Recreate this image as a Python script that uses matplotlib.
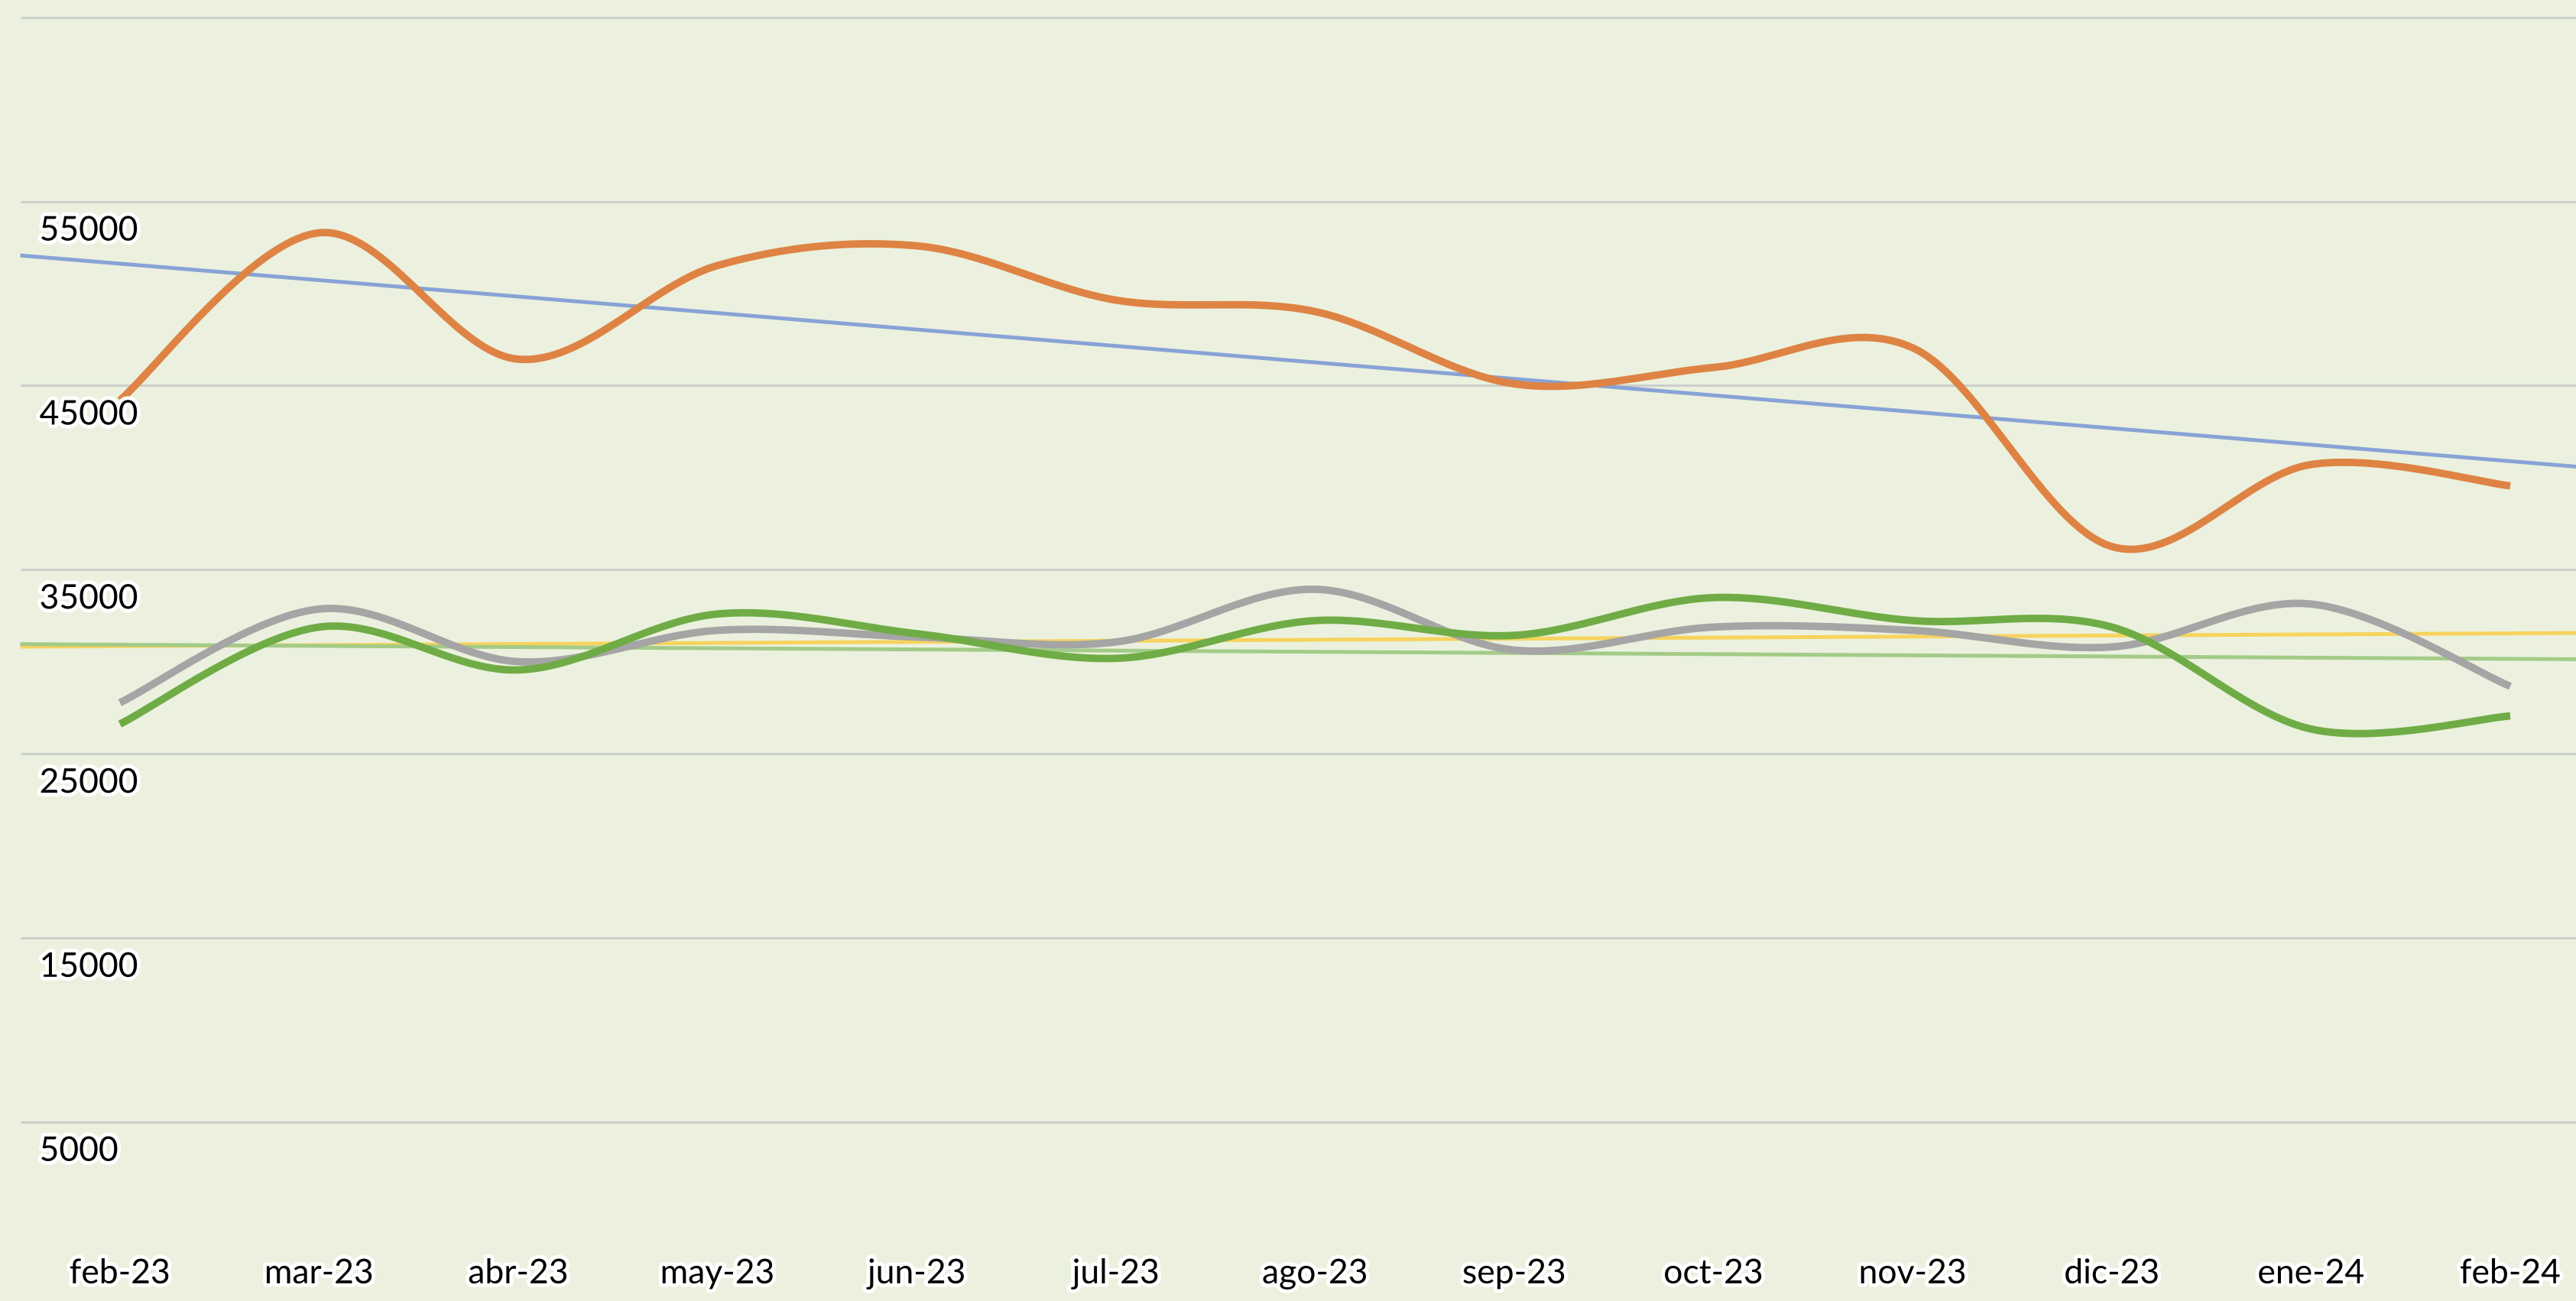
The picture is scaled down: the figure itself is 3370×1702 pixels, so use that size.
import numpy as np
import matplotlib
matplotlib.use("Agg")
import matplotlib.pyplot as plt
import matplotlib.patheffects as pe

months = ["feb-23", "mar-23", "abr-23", "may-23", "jun-23", "jul-23", "ago-23",
          "sep-23", "oct-23", "nov-23", "dic-23", "ene-24", "feb-24"]
orange_vals = [44200, 53300, 46430, 51520, 52590, 49640, 49020, 45090, 45980, 47050, 36250, 40710, 39550]
gray_vals = [27770, 32860, 30000, 31700, 31340, 31070, 33930, 30630, 31880, 31700, 30800, 33130, 28660]
green_vals = [26610, 31880, 29550, 32590, 31520, 30180, 32230, 31430, 33480, 32230, 31880, 26340, 27050]
ytick_vals = [5000, 15000, 25000, 35000, 45000, 55000, 65000]
ytick_labels = ["5000", "15000", "25000", "35000", "45000", "55000"]

BG = "#EBF1DE"
plt.rcParams['font.family'] = ['Lato', 'DejaVu Sans']

fig = plt.figure(figsize=(33.70, 17.029), dpi=100)
fig.patch.set_facecolor(BG)
ax = fig.add_axes([0, 0, 1, 1])
ax.set_facecolor(BG)
for s in ax.spines.values():
    s.set_visible(False)
ax.set_xticks([])
ax.set_yticks([])
ax.set_xlim(-0.602, 12.33)
ax.set_ylim(-4732, 65982)

# gridlines
ax.hlines(ytick_vals, -0.5, 13, colors="#CDCFCB", linewidth=2.2, zorder=1)


def smooth(y, n=40):
    y = np.asarray(y, float)
    x = np.arange(len(y), dtype=float)
    P = np.column_stack([x, y])
    Pext = np.vstack([P[0], P, P[-1]])
    t = np.linspace(0, 1, n)[:, None]
    out = []
    for i in range(len(y) - 1):
        p0 = Pext[i + 1]
        p3 = Pext[i + 2]
        p1 = p0 + (Pext[i + 2] - Pext[i]) / 6.0
        p2 = p3 - (Pext[i + 3] - Pext[i + 1]) / 6.0
        seg = ((1 - t) ** 3) * p0 + 3 * ((1 - t) ** 2) * t * p1 + 3 * (1 - t) * t ** 2 * p2 + t ** 3 * p3
        out.append(seg if i == 0 else seg[1:])
    out = np.vstack(out)
    return out[:, 0], out[:, 1]


xs = np.arange(len(months))
# trendlines
xt = np.array([-0.5, 12.5])
for vals, col in [(orange_vals, "#87A3D6"), (gray_vals, "#F7D35E"), (green_vals, "#A3CB88")]:
    k, b = np.polyfit(xs, vals, 1)
    ax.plot(xt, k * xt + b, color=col, linewidth=3.6, zorder=2, solid_capstyle="butt")

for vals, col in [(orange_vals, "#DE8344"), (gray_vals, "#A5A5A5"), (green_vals, "#6FAC46")]:
    sx, sy = smooth(vals)
    ax.plot(sx, sy, color=col, linewidth=7.0, zorder=3, solid_capstyle="butt")

stroke = [pe.withStroke(linewidth=7, foreground="white")]
for v, lab in zip(ytick_vals, ytick_labels):
    ax.text(-0.404, v - 1600, lab, ha="left", va="center", fontsize=32,
            color="black", path_effects=stroke, zorder=5)
for i, m in enumerate(months):
    ax.text(i, -3250, m, ha="center", va="center", fontsize=32,
            color="black", path_effects=stroke, zorder=5)

fig.savefig("out.png", dpi=100, facecolor=BG)
